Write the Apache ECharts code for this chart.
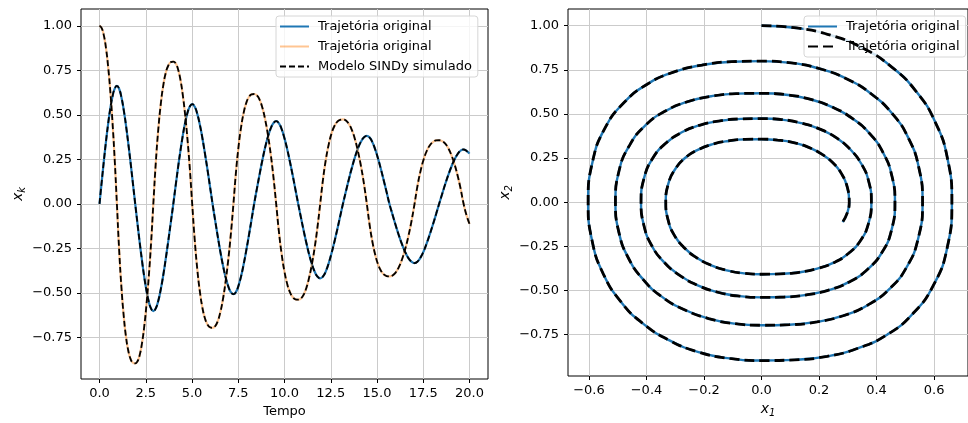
<!DOCTYPE html>
<html><head><meta charset="utf-8">
<script src="https://cdn.jsdelivr.net/npm/echarts@6/dist/echarts.min.js"></script>
<style>html,body{margin:0;padding:0;background:#fff}#c{width:968px;height:423px}</style>
</head><body><div id="c"></div>
<script>
// ---- data ----
const tempo = [
  0, 0.118, 0.235, 0.353, 0.470, 0.588, 0.705, 0.823,
  0.94, 1.064, 1.188, 1.311, 1.435, 1.559, 1.683, 1.806,
  1.93, 2.053, 2.175, 2.298, 2.420, 2.543, 2.665, 2.788,
  2.91, 3.045, 3.180, 3.315, 3.450, 3.585, 3.720, 3.855,
  3.99, 4.118, 4.245, 4.373, 4.500, 4.628, 4.755, 4.883,
  5.01, 5.148, 5.285, 5.423, 5.560, 5.698, 5.835, 5.973,
  6.11, 6.251, 6.393, 6.534, 6.675, 6.816, 6.958, 7.099,
  7.24, 7.38, 7.52, 7.66, 7.80, 7.94, 8.08, 8.22,
  8.36, 8.509, 8.658, 8.806, 8.955, 9.104, 9.253, 9.401,
  9.55, 9.699, 9.848, 9.996, 10.145, 10.294, 10.443, 10.591,
  10.74, 10.889, 11.038, 11.186, 11.335, 11.484, 11.633, 11.781,
  11.93, 12.084, 12.238, 12.391, 12.545, 12.699, 12.853, 13.006,
  13.16, 13.321, 13.483, 13.644, 13.805, 13.966, 14.128, 14.289,
  14.45, 14.603, 14.755, 14.908, 15.060, 15.213, 15.365, 15.518,
  15.67, 15.84, 16.01, 16.18, 16.35, 16.52, 16.69, 16.86,
  17.03, 17.196, 17.363, 17.529, 17.695, 17.861, 18.028, 18.194,
  18.36, 18.525, 18.69, 18.855, 19.02, 19.185, 19.35, 19.515,
  19.68, 19.84, 20.0
];
const x1 = [
  0, 0.122, 0.240, 0.352, 0.452, 0.538, 0.604, 0.647,
  0.662, 0.645, 0.597, 0.526, 0.438, 0.336, 0.228, 0.115,
  0, -0.111, -0.219, -0.320, -0.412, -0.490, -0.550, -0.589,
  -0.603, -0.587, -0.544, -0.479, -0.399, -0.306, -0.207, -0.104,
  0, 0.103, 0.203, 0.297, 0.382, 0.455, 0.511, 0.547,
  0.56, 0.545, 0.505, 0.445, 0.370, 0.284, 0.193, 0.097,
  0, -0.093, -0.184, -0.270, -0.347, -0.412, -0.463, -0.496,
  -0.508, -0.495, -0.458, -0.404, -0.336, -0.258, -0.175, -0.088,
  0, 0.085, 0.168, 0.246, 0.317, 0.377, 0.423, 0.453,
  0.464, 0.452, 0.419, 0.369, 0.307, 0.236, 0.160, 0.080,
  0, -0.077, -0.152, -0.222, -0.286, -0.340, -0.382, -0.409,
  -0.419, -0.408, -0.378, -0.333, -0.277, -0.213, -0.144, -0.072,
  0, 0.070, 0.139, 0.203, 0.261, 0.310, 0.348, 0.373,
  0.382, 0.372, 0.345, 0.304, 0.253, 0.194, 0.131, 0.066,
  0, -0.061, -0.121, -0.177, -0.227, -0.270, -0.304, -0.325,
  -0.333, -0.324, -0.300, -0.265, -0.220, -0.169, -0.115, -0.058,
  0, 0.056, 0.111, 0.162, 0.208, 0.248, 0.278, 0.298,
  0.305, 0.297, 0.282
];
const x2 = [
  1.0, 0.987, 0.946, 0.873, 0.767, 0.627, 0.454, 0.245,
  0, -0.263, -0.473, -0.632, -0.749, -0.827, -0.873, -0.893,
  -0.897, -0.885, -0.849, -0.783, -0.688, -0.562, -0.407, -0.220,
  0, 0.234, 0.421, 0.563, 0.667, 0.737, 0.777, 0.796,
  0.799, 0.789, 0.756, 0.698, 0.613, 0.501, 0.363, 0.196,
  0, -0.204, -0.367, -0.491, -0.582, -0.643, -0.678, -0.694,
  -0.697, -0.688, -0.659, -0.608, -0.535, -0.437, -0.316, -0.171,
  0, 0.181, 0.325, 0.435, 0.515, 0.569, 0.600, 0.615,
  0.617, 0.609, 0.584, 0.539, 0.473, 0.387, 0.280, 0.151,
  0, -0.158, -0.284, -0.380, -0.450, -0.497, -0.524, -0.537,
  -0.539, -0.532, -0.510, -0.471, -0.413, -0.338, -0.245, -0.132,
  0, 0.139, 0.250, 0.334, 0.396, 0.437, 0.461, 0.472,
  0.474, 0.468, 0.448, 0.414, 0.364, 0.297, 0.215, 0.116,
  0, -0.120, -0.215, -0.288, -0.341, -0.376, -0.397, -0.406,
  -0.408, -0.403, -0.386, -0.356, -0.313, -0.256, -0.185, -0.100,
  0, 0.105, 0.188, 0.252, 0.298, 0.329, 0.347, 0.356,
  0.357, 0.352, 0.338, 0.312, 0.274, 0.224, 0.162, 0.087,
  0, -0.065, -0.113
];
const tempoTicks = [0, 2.5, 5, 7.5, 10, 12.5, 15, 17.5, 20];
const yTicks = [-0.75, -0.5, -0.25, 0, 0.25, 0.5, 0.75, 1.0];
const x1Ticks = [-0.6, -0.4, -0.2, 0, 0.2, 0.4, 0.6];

const nameBlueL = 'Trajetória original';
const nameOrangeL = 'Trajetória original\u200b';
const nameModel = 'Modelo SINDy simulado';
const nameBlueR = 'Trajetória original\u200b\u200b';
const nameDashR = 'Trajetória original\u200b\u200b\u200b';

const FONT = 'DejaVu Sans';
const fmt = d => v => (v < 0 ? '\u2212' : '') + Math.abs(v).toFixed(d);

const gridLine = { show: true, lineStyle: { color: '#cbcbcb', width: 1 } };
function xAx(grid, min, max, ticks, dec, name, rich) {
  return {
    type: 'value', gridIndex: grid, min: min, max: max,
    axisLine: { show: false, onZero: false },
    axisTick: { show: true, customValues: ticks, length: 4, lineStyle: { color: '#000' } },
    axisLabel: { customValues: ticks, formatter: fmt(dec), fontSize: 13, color: '#000', fontFamily: FONT, margin: 8 },
    splitLine: gridLine,
    name: name, nameLocation: 'middle', nameGap: 25,
    nameTextStyle: Object.assign({ fontSize: 13, color: '#000', fontFamily: FONT }, rich ? { rich: rich } : {})
  };
}
function yAx(grid, name, rich) {
  return {
    type: 'value', gridIndex: grid, min: -0.9845, max: 1.0945,
    axisLine: { show: false, onZero: false },
    axisTick: { show: true, customValues: yTicks, length: 4, lineStyle: { color: '#000' } },
    axisLabel: { customValues: yTicks, formatter: fmt(2), fontSize: 13, color: '#000', fontFamily: FONT, margin: 9 },
    splitLine: gridLine,
    name: name, nameLocation: 'middle', nameGap: 54, nameRotate: 90,
    nameTextStyle: { fontSize: 13, color: '#000', fontFamily: FONT, rich: rich }
  };
}
const subRich = {
  i: { fontStyle: 'italic', fontSize: 14, fontFamily: FONT, color: '#000' },
  s: { fontStyle: 'italic', fontSize: 10, fontFamily: FONT, color: '#000', padding: [7, 0, 0, 0] }
};

const pairsT1 = tempo.map((t, i) => [t, x1[i]]);
const pairsT2 = tempo.map((t, i) => [t, x2[i]]);
const phase = tempo.map((t, i) => [x1[i], x2[i]]);

const legendBase = {
  orient: 'vertical', itemWidth: 29, itemHeight: 14, itemGap: 7,
  padding: [4, 6, 4, 3],
  backgroundColor: 'rgba(255,255,255,0.8)', borderColor: '#d6d6d6', borderWidth: 1, borderRadius: 3,
  textStyle: { fontSize: 13, color: '#000', fontFamily: FONT, padding: [0, 0, 0, 4] },
  itemStyle: { opacity: 0, color: 'rgba(0,0,0,0)', borderColor: 'rgba(0,0,0,0)', borderWidth: 0 },
  formatter: n => n.replace(/\u200b/g, ''),
  selectedMode: false
};

const chart = echarts.init(document.getElementById('c'), null, { renderer: 'canvas' });
chart.setOption({
  animation: false,
  backgroundColor: '#fff',
  grid: [
    { left: 81, top: 9, width: 407, height: 370, show: true, borderColor: '#000', borderWidth: 1, backgroundColor: 'transparent' },
    { left: 568, top: 9, width: 407, height: 370, show: true, borderColor: '#000', borderWidth: 1, backgroundColor: 'transparent' }
  ],
  xAxis: [
    xAx(0, -1, 21, tempoTicks, 1, 'Tempo'),
    xAx(1, -0.673, 0.718, x1Ticks, 1, '{i|x}{s|1}', subRich)
  ],
  yAxis: [
    yAx(0, '{i|x}{s|k}', subRich),
    yAx(1, '{i|x}{s|2}', subRich)
  ],
  legend: [
    Object.assign({}, legendBase, { left: 276, top: 16, data: [nameBlueL, nameOrangeL, nameModel] }),
    Object.assign({}, legendBase, { left: 804, top: 16, data: [nameBlueR, nameDashR] })
  ],
  series: [
    { name: nameBlueL, type: 'line', xAxisIndex: 0, yAxisIndex: 0, data: pairsT1, symbol: 'none', smooth: true,
      lineStyle: { color: '#1f77b4', width: 2.2 }, itemStyle: { color: '#1f77b4' }, z: 2 },
    { name: nameOrangeL, type: 'line', xAxisIndex: 0, yAxisIndex: 0, data: pairsT2, symbol: 'none', smooth: true,
      lineStyle: { color: 'rgba(255,127,14,0.45)', width: 2.2 }, itemStyle: { color: 'rgba(255,127,14,0.45)' }, z: 3 },
    { name: nameModel, type: 'line', xAxisIndex: 0, yAxisIndex: 0, data: pairsT1, symbol: 'none', smooth: true,
      lineStyle: { color: '#000', width: 1.8, type: [6, 3] }, itemStyle: { color: '#000' }, z: 4 },
    { name: nameModel, type: 'line', xAxisIndex: 0, yAxisIndex: 0, data: pairsT2, symbol: 'none', smooth: true,
      lineStyle: { color: '#000', width: 1.8, type: [6, 3] }, itemStyle: { color: '#000' }, z: 4 },
    { name: nameBlueR, type: 'line', xAxisIndex: 1, yAxisIndex: 1, data: phase, symbol: 'none', smooth: true,
      lineStyle: { color: '#1f77b4', width: 2.4 }, itemStyle: { color: '#1f77b4' }, z: 2 },
    { name: nameDashR, type: 'line', xAxisIndex: 1, yAxisIndex: 1, data: phase, symbol: 'none', smooth: true,
      lineStyle: { color: '#000', width: 2.8, type: [10, 5] }, itemStyle: { color: '#000' }, z: 4 }
  ]
});
</script>
</body></html>
